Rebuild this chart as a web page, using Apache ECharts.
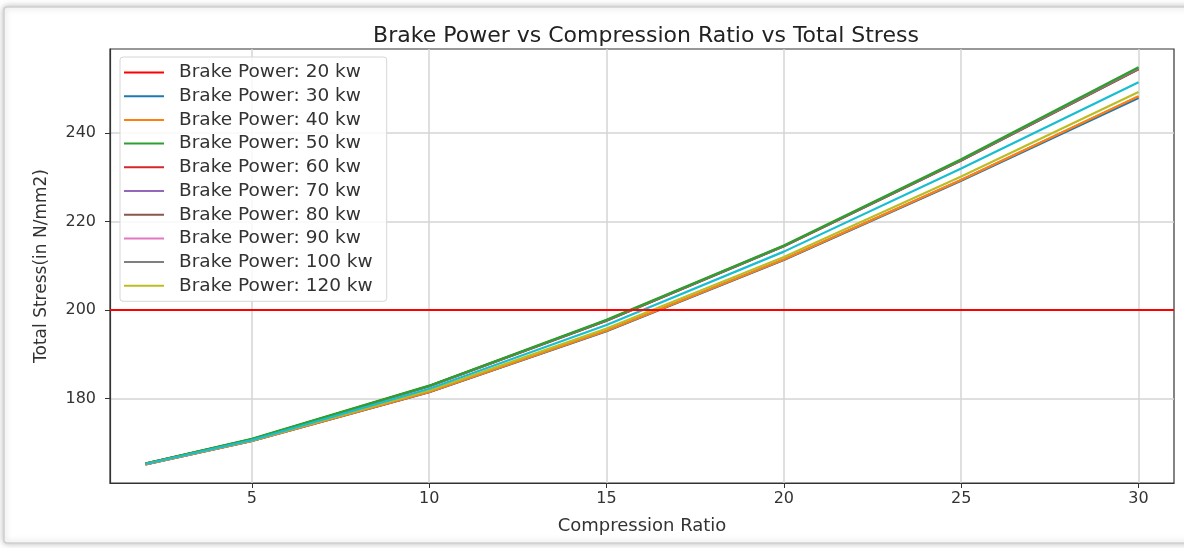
<!DOCTYPE html>
<html>
<head>
<meta charset="utf-8">
<script src="https://cdn.jsdelivr.net/npm/echarts@6/dist/echarts.min.js"></script>
<style>
  html, body { margin: 0; padding: 0; background: #ffffff; }
  #chart { width: 1184px; height: 548px; }
</style>
</head>
<body>
<div id="chart"></div>
<script>
// Compression ratios at which total stress was evaluated
const compressionRatio = [2, 5, 10, 15, 20, 25, 30];

// Total stress (N/mm2) for each brake power
const stressLimit20kw = 200;
const stress30kw  = [165.1, 170.4, 181.4, 195.2, 211.3, 229.2, 247.9];
const stress40kw  = [165.1, 170.4, 181.5, 195.3, 211.4, 229.4, 248.3];
const stress50kw  = [165.3, 170.9, 182.9, 197.8, 214.6, 234.1, 254.9];
const stress60kw  = [165.3, 170.8, 182.8, 197.6, 214.4, 233.8, 254.4];
const stress70kw  = [165.1, 170.4, 181.5, 195.3, 211.4, 229.4, 248.2];
const stress80kw  = [165.3, 170.8, 182.8, 197.6, 214.4, 233.8, 254.5];
const stress90kw  = [165.1, 170.4, 181.5, 195.3, 211.4, 229.4, 248.2];
const stress100kw = [165.3, 170.8, 182.8, 197.7, 214.5, 233.9, 254.6];
const stress120kw = [165.2, 170.5, 181.8, 195.8, 212.0, 230.2, 249.3];
const stressExtra = [165.2, 170.6, 182.2, 196.6, 213.2, 232.0, 251.5];

// Tick labels
const xTicks = [5, 10, 15, 20, 25, 30];
const yTicks = [180, 200, 220, 240];

const FONT = 'DejaVu Sans';
const pair = (ys) => compressionRatio.map((x, i) => [x, ys[i]]);

function curve(name, color, ys) {
  return {
    name: name,
    type: 'line',
    data: pair(ys),
    showSymbol: false,
    symbol: 'none',
    lineStyle: { color: color, width: 2.2 },
    itemStyle: { color: color },
    animation: false
  };
}

// Drawing order (later series paint on top)
const series = [
  {
    name: 'Brake Power: 20 kw',
    type: 'line',
    data: [],
    symbol: 'none',
    itemStyle: { color: '#ff0000' },
    lineStyle: { color: '#ff0000', width: 2 },
    markLine: {
      silent: true,
      symbol: 'none',
      label: { show: false },
      lineStyle: { color: '#ff0000', width: 2, type: 'solid' },
      data: [{ yAxis: stressLimit20kw }],
      animation: false
    },
    animation: false
  },
  curve('Brake Power: 70 kw', '#9467bd', stress70kw),
  curve('Brake Power: 90 kw', '#e377c2', stress90kw),
  curve('Brake Power: 30 kw', '#1f77b4', stress30kw),
  curve('Brake Power: 40 kw', '#ff7f0e', stress40kw),
  curve('Brake Power: 60 kw', '#d62728', stress60kw),
  curve('Brake Power: 80 kw', '#8c564b', stress80kw),
  curve('Brake Power: 100 kw', '#7f7f7f', stress100kw),
  curve('Brake Power: 50 kw', '#2ca02c', stress50kw),
  curve('Brake Power: 120 kw', '#bcbd22', stress120kw),
  curve('Brake Power (unlabelled)', '#17becf', stressExtra)
];

const legendNames = [
  'Brake Power: 20 kw', 'Brake Power: 30 kw', 'Brake Power: 40 kw',
  'Brake Power: 50 kw', 'Brake Power: 60 kw', 'Brake Power: 70 kw',
  'Brake Power: 80 kw', 'Brake Power: 90 kw', 'Brake Power: 100 kw',
  'Brake Power: 120 kw'
];

const chart = echarts.init(document.getElementById('chart'), null, { renderer: 'canvas' });

chart.setOption({
  animation: false,
  backgroundColor: '#ffffff',
  graphic: [
    {
      type: 'rect',
      z: -10,
      silent: true,
      shape: { x: 4, y: 7, width: 1200, height: 536, r: 3 },
      style: {
        fill: '#ffffff',
        stroke: '#cfcfcf',
        lineWidth: 1.5,
        shadowBlur: 6,
        shadowColor: 'rgba(0,0,0,0.25)'
      }
    }
  ],
  title: {
    text: 'Brake Power vs Compression Ratio vs Total Stress',
    left: 641,
    textAlign: 'center',
    top: 20,
    textStyle: { fontFamily: FONT, fontSize: 22, fontWeight: 'normal', color: '#222' }
  },
  grid: {
    left: 110, right: 10, top: 49, bottom: 65,
    show: true, borderColor: '#333', borderWidth: 1.2, backgroundColor: 'transparent'
  },
  legend: {
    data: legendNames,
    orient: 'vertical',
    left: 120,
    top: 57,
    icon: 'rect',
    itemWidth: 40,
    itemHeight: 2,
    itemGap: 4.7,
    padding: [6, 14, 6, 4],
    backgroundColor: 'rgba(255,255,255,0.85)',
    borderColor: '#d6d6d6',
    borderWidth: 1,
    borderRadius: 3,
    textStyle: { fontFamily: FONT, fontSize: 18.5, color: '#333', lineHeight: 18, padding: [0, 0, 0, 10] }
  },
  xAxis: {
    type: 'value',
    min: 1,
    max: 31,
    name: 'Compression Ratio',
    nameLocation: 'middle',
    nameGap: 34,
    nameTextStyle: { fontFamily: FONT, fontSize: 18, color: '#333' },
    axisLine: { show: true, onZero: false, lineStyle: { color: '#333', width: 1.2 } },
    axisTick: { show: true, length: 5, customValues: xTicks, lineStyle: { color: '#333' } },
    axisLabel: { customValues: xTicks, fontFamily: FONT, fontSize: 16, color: '#333', margin: 8 },
    splitLine: { show: true, lineStyle: { color: '#d4d4d4', width: 1.5 } }
  },
  yAxis: {
    type: 'value',
    min: 160.9,
    max: 259.0,
    name: 'Total Stress(in N/mm2)',
    nameLocation: 'middle',
    nameGap: 60,
    nameTextStyle: { fontFamily: FONT, fontSize: 17, color: '#333' },
    axisLine: { show: true, onZero: false, lineStyle: { color: '#333', width: 1.2 } },
    axisTick: { show: true, length: 5, customValues: yTicks, lineStyle: { color: '#333' } },
    axisLabel: { customValues: yTicks, fontFamily: FONT, fontSize: 16, color: '#333', margin: 14 },
    splitLine: { show: true, lineStyle: { color: '#d4d4d4', width: 1.5 } }
  },
  series: series
});
</script>
</body>
</html>
